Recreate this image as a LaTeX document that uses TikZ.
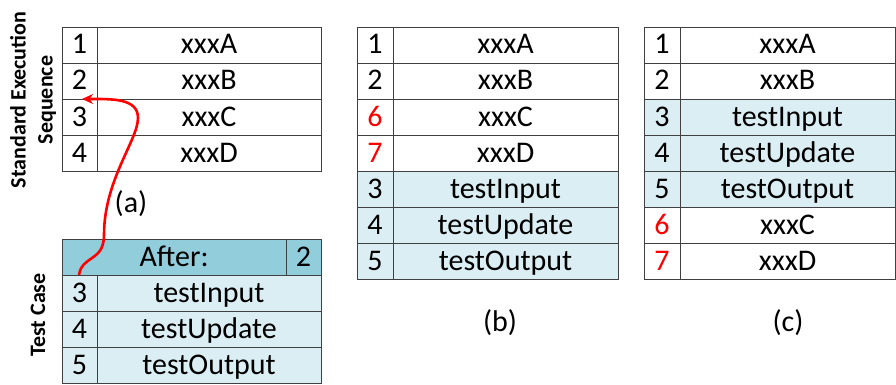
\documentclass[tikz,border=0pt]{standalone}
\usepackage{fontspec}
\setmainfont{Carlito}
\usetikzlibrary{arrows.meta}
\definecolor{lightb}{HTML}{DAEEF3}
\definecolor{headb}{HTML}{92CDDC}
\definecolor{linec}{HTML}{404040}
\begin{document}
\begin{tikzpicture}[x=1pt,y=-1pt,
  font=\fontsize{30}{36}\selectfont,
  cell/.style={draw=linec, line width=0.9pt, minimum height=36pt, inner sep=0pt,
    outer sep=0pt, anchor=north west, text height=20pt, text depth=2pt},
  sidelab/.style={rotate=90, font=\bfseries\fontsize{22}{27}\selectfont, align=center},
  redarrow/.style={draw=red, line width=2.6pt, -{Stealth[length=11pt,width=10pt]}}]
\useasboundingbox (0,0) rectangle (896,385);
% side labels
\node[sidelab] (sl) at (33,100) {Standard Execution\\Sequence};
\node[sidelab] (tc) at (38,315) {Test Case};
% table (a)
\foreach \i/\n/\t in {1/1/xxxA,2/2/xxxB,3/3/xxxC,4/4/xxxD}{
  \node[cell, minimum width=35pt, fill=white] (an\i) at (62,{27+36*(\i-1)}) {\n};
  \node[cell, minimum width=224pt, fill=white] (at\i) at (97,{27+36*(\i-1)}) {\t};
}
\node (la) at (131,204) {(a)};
% test case table
\node[cell, minimum width=224pt, fill=headb] (hd) at (62,239) {After:};
\node[cell, minimum width=35pt, fill=headb] (hn) at (286,239) {2};
\foreach \i/\n/\t in {1/3/testInput,2/4/testUpdate,3/5/testOutput}{
  \node[cell, minimum width=35pt, fill=lightb] (tn\i) at (62,{275+36*(\i-1)}) {\n};
  \node[cell, minimum width=224pt, fill=lightb] (tt\i) at (97,{275+36*(\i-1)}) {\t};
}
% table (b)
\foreach \i/\n/\t/\f in {1/1/xxxA/white,2/2/xxxB/white,3/{\textcolor{red}{6}}/xxxC/white,4/{\textcolor{red}{7}}/xxxD/white,5/3/testInput/lightb,6/4/testUpdate/lightb,7/5/testOutput/lightb}{
  \node[cell, minimum width=36pt, fill=\f] (bn\i) at (357,{27+36*(\i-1)}) {\n};
  \node[cell, minimum width=225pt, fill=\f] (bt\i) at (393,{27+36*(\i-1)}) {\t};
}
\node (lb) at (500,323) {(b)};
% table (c)
\foreach \i/\n/\t/\f in {1/1/xxxA/white,2/2/xxxB/white,3/3/testInput/lightb,4/4/testUpdate/lightb,5/5/testOutput/lightb,6/{\textcolor{red}{6}}/xxxC/white,7/{\textcolor{red}{7}}/xxxD/white}{
  \node[cell, minimum width=36pt, fill=\f] (cn\i) at (644,{27+36*(\i-1)}) {\n};
  \node[cell, minimum width=215pt, fill=\f] (ct\i) at (680,{27+36*(\i-1)}) {\t};
}
\node (lc) at (788,323) {(c)};
% red arrow
\coordinate (as) at ([xshift=17pt]hd.south west);
\coordinate (ae) at ([xshift=20pt]an2.south west);
\draw[redarrow] (as) .. controls ++(3,-20) and (104,262) .. (104,235)
  .. controls (104,180) and (138,140) .. (138,118)
  .. controls (138,98) and (112,99) .. (ae);
\end{tikzpicture}
\end{document}
